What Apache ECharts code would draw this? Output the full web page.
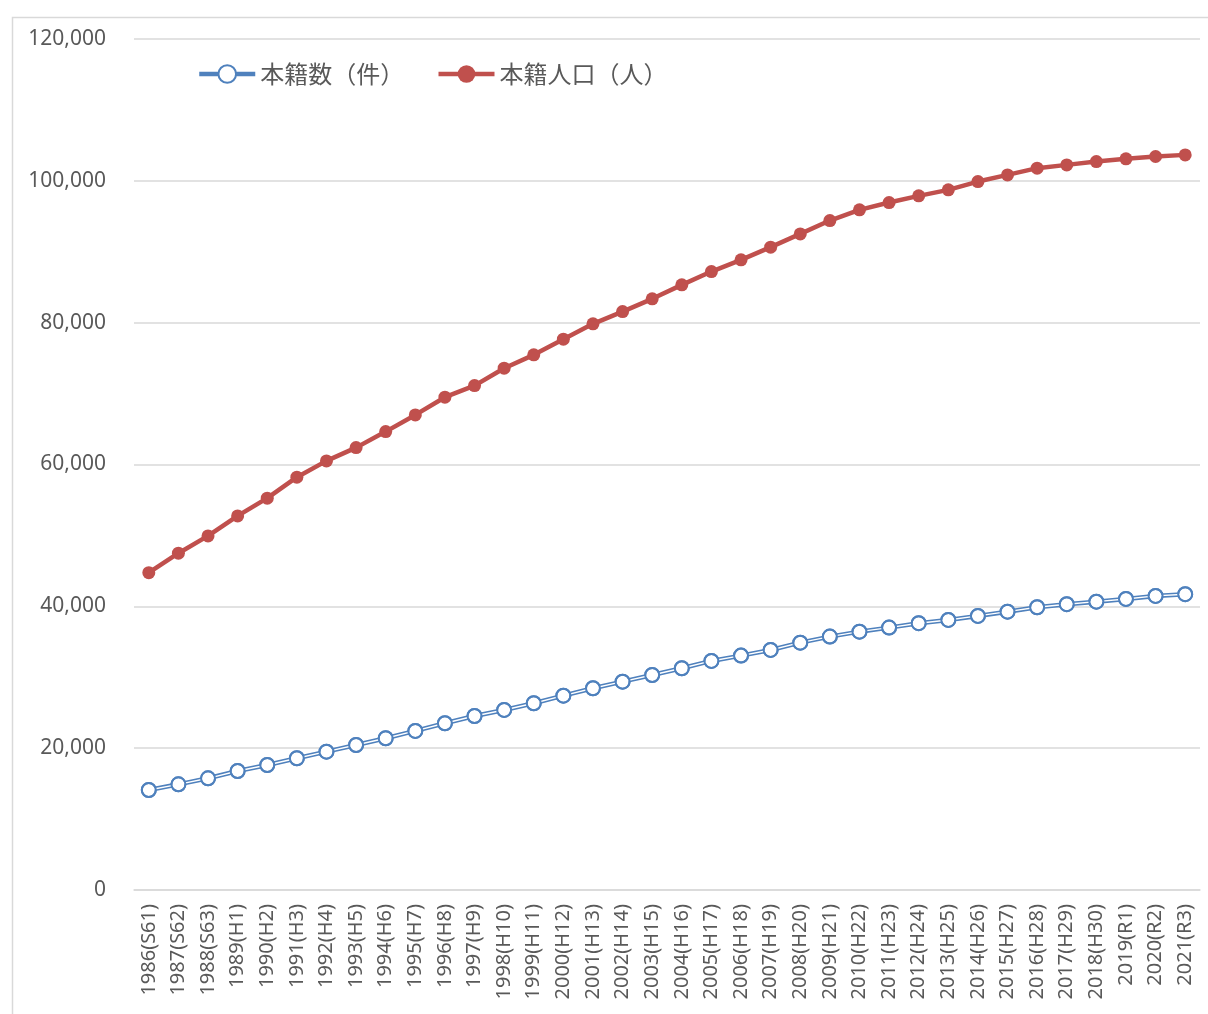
<!DOCTYPE html>
<html>
<head>
<meta charset="utf-8">
<script src="https://cdn.jsdelivr.net/npm/echarts@6/dist/echarts.min.js"></script>
<style>
html,body{margin:0;padding:0;background:#fff;}
#main{width:1208px;height:1014px;}
</style>
</head>
<body>
<div id="main"></div>
<script>
var categories = ['1986(S61)','1987(S62)','1988(S63)','1989(H1)','1990(H2)','1991(H3)','1992(H4)','1993(H5)','1994(H6)','1995(H7)','1996(H8)','1997(H9)','1998(H10)','1999(H11)','2000(H12)','2001(H13)','2002(H14)','2003(H15)','2004(H16)','2005(H17)','2006(H18)','2007(H19)','2008(H20)','2009(H21)','2010(H22)','2011(H23)','2012(H24)','2013(H25)','2014(H26)','2015(H27)','2016(H28)','2017(H29)','2018(H30)','2019(R1)','2020(R2)','2021(R3)'];
var honsekiCount = [14100,14900,15750,16780,17630,18580,19510,20450,21400,22430,23510,24540,25390,26330,27400,28450,29380,30320,31270,32300,33050,33850,34880,35730,36430,37000,37620,38080,38650,39250,39870,40300,40660,41040,41470,41710];
var honsekiPop = [44750,47490,49930,52750,55250,58210,60510,62380,64640,66990,69490,71130,73580,75460,77670,79830,81560,83360,85330,87210,88860,90650,92520,94400,95910,96940,97880,98730,99900,100840,101790,102250,102720,103100,103430,103660];
var yTicks = {min: 0, max: 120000, interval: 20000};
var names = ['本籍数（件）', '本籍人口（人）'];

var blue = '#4f81bd', red = '#c0504d', grey = '#595959';
var chart = echarts.init(document.getElementById('main'));
chart.setOption({
  animation: false,
  backgroundColor: '#fff',
  graphic: [{
    type: 'rect', left: 10, top: 15, silent: true, z: -10,
    shape: {x: 0, y: 0, width: 1300, height: 1100},
    style: {fill: 'none', stroke: '#d9d9d9', lineWidth: 1.5}
  }],
  legend: {
    data: [
      {name: names[0], lineStyle: {width: 4.5}},
      {name: names[1], lineStyle: {width: 4.5}}
    ],
    left: 197, top: 62, padding: 0,
    itemWidth: 56, itemHeight: 22, itemGap: 32,
    textStyle: {fontFamily: 'Noto Sans CJK JP', fontSize: 24, color: grey}
  },
  grid: {left: 134, right: 8, top: 39, bottom: 124, containLabel: false},
  xAxis: {
    type: 'category', data: categories, boundaryGap: true,
    axisLine: {lineStyle: {color: '#d9d9d9', width: 1.5}},
    axisTick: {show: false},
    axisLabel: {rotate: 90, margin: 14, interval: 0, fontFamily: 'Noto Sans', fontSize: 20, color: grey}
  },
  yAxis: {
    type: 'value', min: yTicks.min, max: yTicks.max, interval: yTicks.interval,
    axisLine: {show: false}, axisTick: {show: false},
    splitLine: {lineStyle: {color: '#d9d9d9', width: 1.5}},
    axisLabel: {margin: 28, fontFamily: 'Noto Sans', fontSize: 21, color: grey,
      formatter: function (v) { return v.toLocaleString('en-US'); }}
  },
  series: [
    {
      name: names[0], type: 'line', data: honsekiCount, z: 2,
      lineStyle: {color: blue, width: 4.5},
      symbol: 'circle', symbolSize: 14,
      itemStyle: {color: '#fff', borderColor: blue, borderWidth: 2}
    },
    {
      name: '_inner', type: 'line', data: honsekiCount, z: 3,
      lineStyle: {color: '#fff', width: 1.4},
      symbol: 'none', silent: true
    },
    {
      name: '_marks', type: 'line', data: honsekiCount, z: 4,
      lineStyle: {opacity: 0, width: 0},
      symbol: 'circle', symbolSize: 14, showSymbol: true,
      itemStyle: {color: 'rgba(255,255,255,0)', borderColor: blue, borderWidth: 2}
    },
    {
      name: names[1], type: 'line', data: honsekiPop, z: 5,
      lineStyle: {color: red, width: 4.5},
      symbol: 'circle', symbolSize: 13,
      itemStyle: {color: red}
    }
  ]
});
</script>
</body>
</html>
